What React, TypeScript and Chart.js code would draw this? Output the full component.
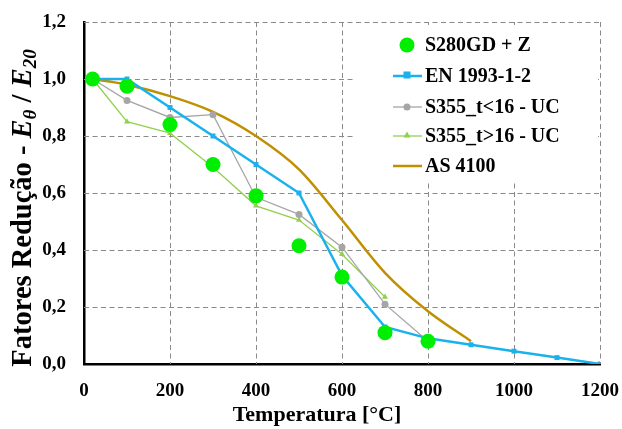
import React, { useEffect, useRef } from "react";
import { Chart, registerables } from "chart.js";

Chart.register(...registerables);

const temps = [20, 100, 200, 300, 400, 500, 600, 700, 800, 900, 1000, 1100, 1200];
const s280Temps = [20, 100, 200, 300, 400, 500, 600, 700, 800];
const s280Values = [1.0, 0.975, 0.84, 0.70, 0.59, 0.415, 0.305, 0.11, 0.08];
const enValues = [1.0, 1.0, 0.9, 0.8, 0.7, 0.6, 0.31, 0.13, 0.09, 0.0675, 0.045, 0.0225, 0.0];
const ucLowTemps = [20, 100, 200, 300, 400, 500, 600, 700, 800];
const ucLowValues = [1.0, 0.925, 0.865, 0.875, 0.585, 0.525, 0.41, 0.21, 0.08];
const ucHighTemps = [20, 100, 200, 300, 400, 500, 600, 700];
const ucHighValues = [1.0, 0.85, 0.81, 0.69, 0.555, 0.505, 0.385, 0.235];
const asTemps = [20, 100, 200, 300, 400, 500, 600, 700, 800, 900];
const asValues = [1.0, 0.98, 0.94, 0.885, 0.80, 0.683, 0.505, 0.32, 0.185, 0.08];
const xTicks = [0, 200, 400, 600, 800, 1000, 1200];
const yTicks = [0, 0.2, 0.4, 0.6, 0.8, 1.0, 1.2];

const FONT = "'Liberation Serif', 'Times New Roman', serif";

const toPts = (xs: number[], ys: number[]) => xs.map((x, i) => ({ x, y: ys[i] }));

const gridPlugin = {
  id: "dashedGrid",
  beforeDatasetsDraw(chart: any) {
    const ctx = chart.ctx;
    const a = chart.chartArea;
    const xs = chart.scales.x;
    const ys = chart.scales.y;
    ctx.save();
    ctx.strokeStyle = "#8a8a8a";
    ctx.lineWidth = 1;
    ctx.setLineDash([5, 3.5]);
    for (const v of xTicks) {
      if (v === xTicks[0]) continue;
      const px = Math.round(xs.getPixelForValue(v)) + 0.5;
      ctx.beginPath();
      ctx.moveTo(px, a.top);
      ctx.lineTo(px, a.bottom);
      ctx.stroke();
    }
    for (const v of yTicks) {
      if (v === yTicks[0]) continue;
      const py = Math.round(ys.getPixelForValue(v)) + 0.5;
      ctx.beginPath();
      ctx.moveTo(a.left, py);
      ctx.lineTo(a.right, py);
      ctx.stroke();
    }
    ctx.restore();
  },
};

const titlesPlugin = {
  id: "customTitles",
  afterDraw(chart: any) {
    const ctx = chart.ctx;
    ctx.save();
    ctx.fillStyle = "#000";
    ctx.font = `bold 22px ${FONT}`;
    ctx.textAlign = "center";
    ctx.textBaseline = "middle";
    ctx.fillText("Temperatura [°C]", 317, 415);
    const segs: { t: string; f: string; dy: number }[] = [
      { t: "Fatores Redução - ", f: `bold 28.5px ${FONT}`, dy: 0 },
      { t: "E", f: `italic bold 28.5px ${FONT}`, dy: 0 },
      { t: "θ", f: `italic bold 19px ${FONT}`, dy: 5 },
      { t: " / ", f: `bold 28.5px ${FONT}`, dy: 0 },
      { t: "E", f: `italic bold 28.5px ${FONT}`, dy: 0 },
      { t: "20", f: `italic bold 19px ${FONT}`, dy: 5 },
    ];
    let total = 0;
    for (const s of segs) {
      ctx.font = s.f;
      total += ctx.measureText(s.t).width;
    }
    ctx.translate(0, 208);
    ctx.rotate(-Math.PI / 2);
    ctx.textAlign = "left";
    ctx.textBaseline = "alphabetic";
    let x = -total / 2;
    for (const s of segs) {
      ctx.font = s.f;
      ctx.fillText(s.t, x, 31 + s.dy);
      x += ctx.measureText(s.t).width;
    }
    ctx.restore();
  },
};

const legendPlugin = {
  id: "customLegend",
  afterDatasetsDraw(chart: any) {
    const ctx = chart.ctx;
    const ds = chart.data.datasets;
    ctx.save();
    ctx.fillStyle = "#fff";
    ctx.fillRect(354, 25, 244, 157);
    const rowY = [45, 76, 107, 136, 166];
    ds.forEach((d: any, i: number) => {
      const y = rowY[i];
      const cx = 407;
      if (d.showLine !== false) {
        ctx.strokeStyle = d.borderColor;
        ctx.lineWidth = d.borderWidth;
        ctx.beginPath();
        ctx.moveTo(393, y);
        ctx.lineTo(422, y);
        ctx.stroke();
      }
      const r = d.pointRadius;
      if (r > 0) {
        ctx.fillStyle = d.pointBackgroundColor;
        const st = d.pointStyle;
        ctx.beginPath();
        if (st === "rect") {
          ctx.fillRect(cx - r, y - r - 1, 2 * r, 2 * r);
        } else if (st === "triangle") {
          ctx.moveTo(cx, y - r - 1);
          ctx.lineTo(cx + r, y + r - 2);
          ctx.lineTo(cx - r, y + r - 2);
          ctx.closePath();
          ctx.fill();
        } else {
          ctx.arc(cx, y, r, 0, Math.PI * 2);
          ctx.fill();
        }
      }
      ctx.fillStyle = "#000";
      ctx.font = `bold 20px ${FONT}`;
      ctx.textAlign = "left";
      ctx.textBaseline = "middle";
      ctx.fillText(d.label, 425, y + 1);
    });
    ctx.restore();
  },
};

export default function App() {
  const ref = useRef<HTMLCanvasElement>(null);
  useEffect(() => {
    document.body.style.margin = "0";
    const canvas = ref.current!;
    const chart = new Chart(canvas, {
      type: "scatter",
      data: {
        datasets: [
          {
            label: "S280GD + Z",
            data: toPts(s280Temps, s280Values),
            showLine: false,
            pointStyle: "circle",
            pointRadius: 7.5,
            pointBackgroundColor: "#00ee00",
            pointBorderColor: "#00ee00",
            pointBorderWidth: 0,
            borderColor: "#00ee00",
            backgroundColor: "#00ee00",
          },
          {
            label: "EN 1993-1-2",
            data: toPts(temps, enValues),
            showLine: true,
            borderColor: "#19b2ec",
            borderWidth: 2.5,
            tension: 0,
            pointStyle: "rect",
            pointRadius: 3.5,
            pointBackgroundColor: "#19b2ec",
            pointBorderColor: "#19b2ec",
            pointBorderWidth: 0,
          },
          {
            label: "S355_t<16 - UC",
            data: toPts(ucLowTemps, ucLowValues),
            showLine: true,
            borderColor: "#a6a6a6",
            borderWidth: 1.3,
            pointStyle: "circle",
            pointRadius: 3.5,
            pointBackgroundColor: "#a6a6a6",
            pointBorderColor: "#a6a6a6",
            pointBorderWidth: 0,
          },
          {
            label: "S355_t>16 - UC",
            data: toPts(ucHighTemps, ucHighValues),
            showLine: true,
            borderColor: "#92d050",
            borderWidth: 1.3,
            pointStyle: "triangle",
            pointRadius: 3.5,
            pointBackgroundColor: "#92d050",
            pointBorderColor: "#92d050",
            pointBorderWidth: 0,
          },
          {
            label: "AS 4100",
            data: toPts(asTemps, asValues),
            showLine: true,
            borderColor: "#bf9000",
            borderWidth: 2.5,
            cubicInterpolationMode: "monotone",
            pointRadius: 0,
            pointStyle: "circle",
            pointBackgroundColor: "#bf9000",
            pointBorderColor: "#bf9000",
          },
        ],
      },
      options: {
        responsive: false,
        animation: false,
        layout: { padding: { left: 0, right: 22, top: 22, bottom: 0 } },
        plugins: {
          legend: { display: false },
          tooltip: { enabled: false },
        },
        scales: {
          x: {
            type: "linear",
            min: 0,
            max: 1200,
            afterBuildTicks: (s: any) => {
              s.ticks = xTicks.map((v) => ({ value: v }));
            },
            afterFit: (s: any) => {
              s.height = 65;
              s.paddingLeft = 0;
              s.paddingRight = 0;
            },
            ticks: {
              color: "#000",
              font: { family: FONT, size: 19, weight: "bold" },
              padding: 16,
              maxRotation: 0,
              callback: (v: any) => String(v),
            },
            grid: { display: false, drawTicks: false },
            border: { display: true, color: "#000", width: 2.5 },
            title: { display: false },
          },
          y: {
            type: "linear",
            min: 0,
            max: 1.2,
            afterBuildTicks: (s: any) => {
              s.ticks = yTicks.map((v) => ({ value: v }));
            },
            afterFit: (s: any) => {
              s.width = 84;
              s.paddingTop = 0;
              s.paddingBottom = 0;
            },
            ticks: {
              color: "#000",
              font: { family: FONT, size: 19, weight: "bold" },
              padding: 18,
              callback: (v: any) => Number(v).toFixed(1).replace(".", ","),
            },
            grid: { display: false, drawTicks: false },
            border: { display: true, color: "#000", width: 2.5 },
            title: { display: false },
          },
        },
      },
      plugins: [gridPlugin, legendPlugin, titlesPlugin],
    } as any);
    return () => chart.destroy();
  }, []);
  return (
    <div style={{ width: 622, height: 429 }}>
      <canvas ref={ref} width={622} height={429} />
    </div>
  );
}
